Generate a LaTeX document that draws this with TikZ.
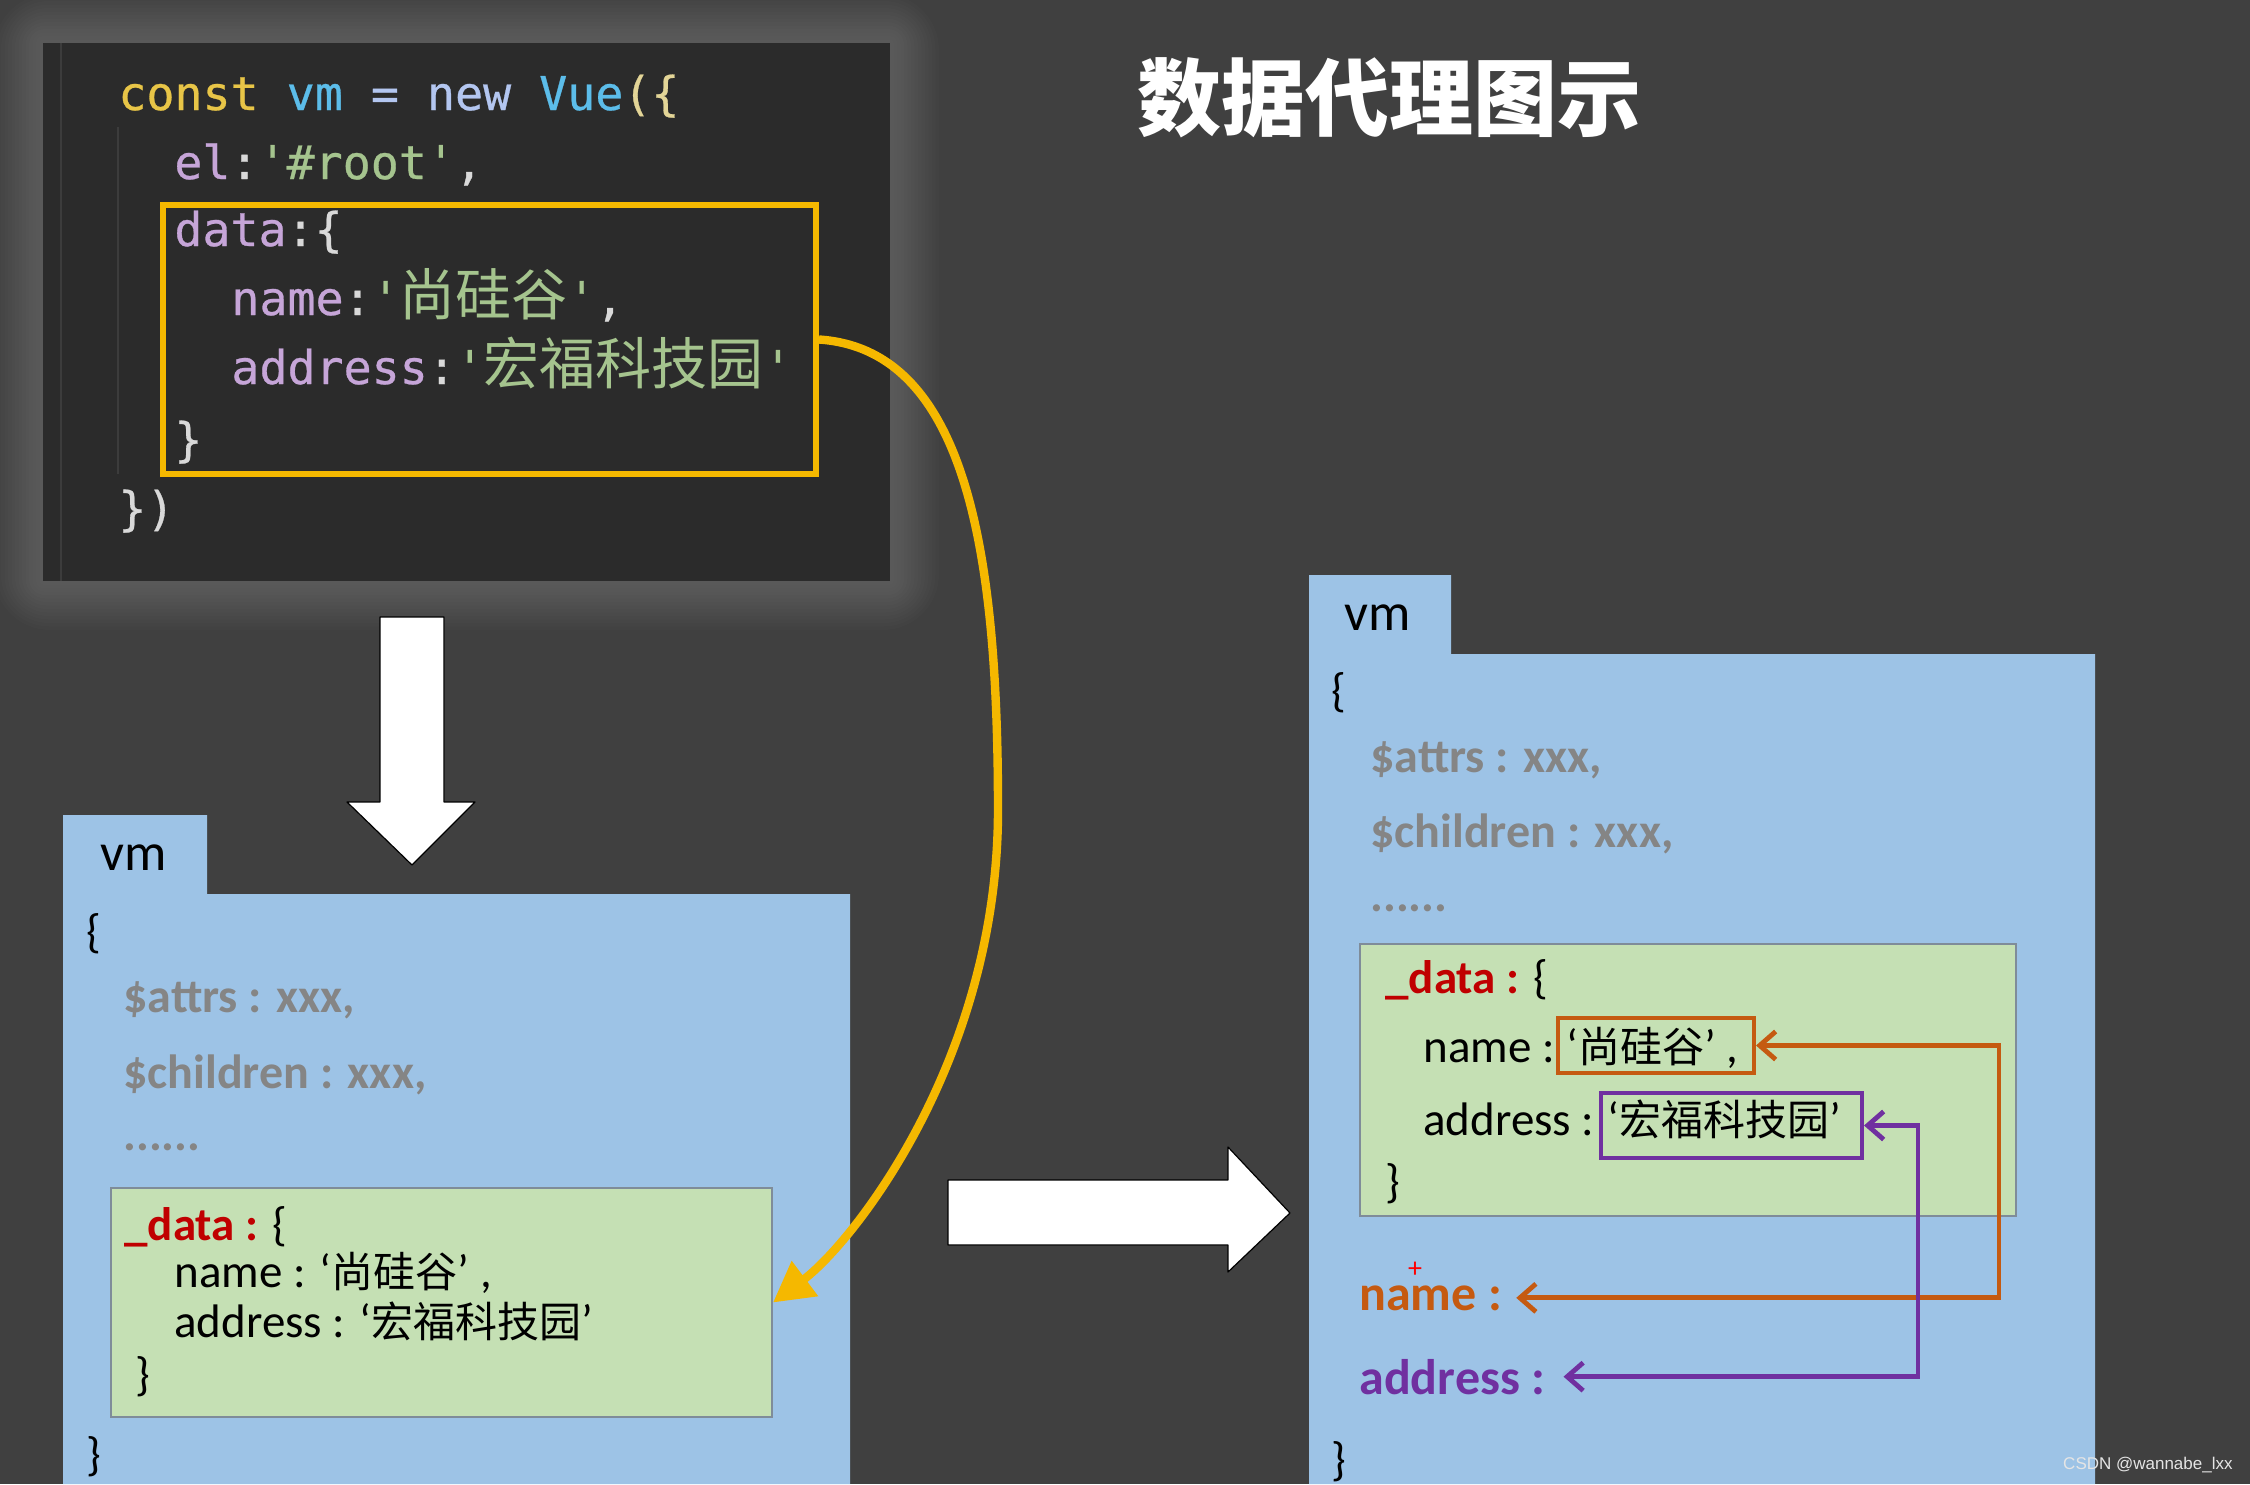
\documentclass[tikz,border=0pt]{standalone}
\usepackage{fontspec}
\setmainfont{Carlito}
\setmonofont{DejaVu Sans Mono}
\newfontfamily\cjk{Noto Sans CJK SC}
\newfontfamily\wmfont{Liberation Sans}
\usetikzlibrary{arrows.meta}

\definecolor{bgGray}{HTML}{404040}
\definecolor{codeBg}{HTML}{2B2B2B}
\definecolor{codeLine}{HTML}{3C3C3C}
\definecolor{kwYellow}{HTML}{E8C547}
\definecolor{varBlue}{HTML}{5CBDEA}
\definecolor{opBlue}{HTML}{B3C6F0}
\definecolor{propLilac}{HTML}{C6A5D8}
\definecolor{strGreen}{HTML}{A5C48E}
\definecolor{punGray}{HTML}{D9D9D9}
\definecolor{parenYel}{HTML}{E3D597}
\definecolor{boxYellow}{HTML}{F5B800}
\definecolor{vmBlue}{HTML}{9DC3E6}
\definecolor{dataGreen}{HTML}{C5E0B4}
\definecolor{dataEdge}{HTML}{7F8C99}
\definecolor{attrGray}{HTML}{858585}
\definecolor{dataRed}{HTML}{C00000}
\definecolor{nameOrange}{HTML}{C55A11}
\definecolor{addrPurple}{HTML}{7030A0}

\newcommand{\sq}{\textquotesingle}
\newcommand{\codezh}[1]{{\cjk\fontsize{28pt}{28pt}\selectfont #1}}
\newcommand{\boxzh}[1]{{\cjk\fontsize{21pt}{21pt}\selectfont #1}}

\begin{document}
\begin{tikzpicture}[x=0.5pt,y=-0.5pt,
  code/.style={anchor=base west,inner sep=0pt,font=\ttfamily\fontsize{23.3pt}{28pt}\selectfont\addfontfeature{FakeBold=0.6}},
  attr/.style={anchor=base west,inner sep=0pt,text=attrGray,font=\bfseries\fontsize{24pt}{28pt}\selectfont},
  txt/.style={anchor=base west,inner sep=0pt,font=\fontsize{23.5pt}{28pt}\selectfont},
  tabtxt/.style={anchor=base west,inner sep=0pt,font=\fontsize{26.5pt}{30pt}\selectfont},
  lbl/.style={anchor=base west,inner sep=0pt,font=\bfseries\fontsize{25pt}{30pt}\selectfont},
  databox/.style={draw=dataEdge,line width=1pt,fill=dataGreen,inner sep=0pt},
  hlbox/.style={line width=2pt,inner sep=0pt},
  blockarr/.style={fill=white,draw=black,line width=0.6pt,line join=round},
  link/.style={line width=2.4pt,arrows={Straight Barb[length=8pt,width=14pt]-Straight Barb[length=8pt,width=14pt]}},
  yarr/.style={draw=boxYellow,line width=4.2pt,-{Triangle[length=20pt,width=21pt]}}]

  \useasboundingbox (0,0) rectangle (2250,1484);
  \fill[bgGray] (0,0) rectangle (2250,1484);

  \foreach \g in {1,...,14}
    \fill[white,opacity=0.011,rounded corners=\g*2pt] (43-\g*3.5,43-\g*3.5) rectangle (890+\g*3.5,581+\g*3.5);
  \node[fill=codeBg,minimum width=423.5pt,minimum height=269pt,inner sep=0pt] (panel) at (466.5,312) {};
  \draw[codeLine,line width=1pt] (61,43) -- (61,581);
  \draw[codeLine,line width=1pt] (118,127) -- (118,474);

  \node[code] (c1) at (118,110) {\textcolor{kwYellow}{const} \textcolor{varBlue}{vm} \textcolor{opBlue}{=} \textcolor{opBlue}{new} \textcolor{varBlue}{Vue}\textcolor{parenYel}{(\{}};
  \node[code] (c2) at (174,179) {\textcolor{propLilac}{el}\textcolor{punGray}{:}\textcolor{strGreen}{\sq\#root\sq}\textcolor{punGray}{,}};
  \node[code] (c3) at (174,246) {\textcolor{propLilac}{data}\textcolor{punGray}{:\{}};
  \node[code] (c4) at (231,315) {\textcolor{propLilac}{name}\textcolor{punGray}{:}\textcolor{strGreen}{\sq\codezh{尚硅谷}\sq}\textcolor{punGray}{,}};
  \node[code] (c5) at (231,384) {\textcolor{propLilac}{address}\textcolor{punGray}{:}\textcolor{strGreen}{\sq\codezh{宏福科技园}\sq}};
  \node[code] (c6) at (174,456) {\textcolor{punGray}{\}}};
  \node[code] (c7) at (118,525) {\textcolor{punGray}{\})}};
  \node[draw=boxYellow,line width=3pt,minimum width=326.5pt,minimum height=134.5pt,inner sep=0pt] (ybox) at (489.5,339.5) {};

  \node[text=white,font=\cjk\bfseries\fontsize{42pt}{42pt}\selectfont] (title) at (1389,98) {数据代理图示};

  \draw[blockarr] (380,617) -- (444,617) -- (444,802) -- (475,802) -- (412,865) -- (347,802) -- (380,802) -- cycle;
  \draw[blockarr] (948,1180) -- (1228,1180) -- (1228,1147) -- (1290,1213) -- (1228,1272) -- (1228,1245) -- (948,1245) -- cycle;

  \fill[vmBlue] (63,815) -- (207,815) -- (207,894) -- (850,894) -- (850,1484) -- (63,1484) -- cycle;
  \node[tabtxt] (lvm) at (100,870) {vm};
  \node[txt] (lopen) at (86,947) {\{};
  \node[attr] (lattrs) at (123,1012) {\$attrs : xxx,};
  \node[attr] (lchild) at (123,1088) {\$children : xxx,};
  \node[attr] (ldots) at (123,1150) {......};
  \node[databox,minimum width=330.5pt,minimum height=114.5pt] (ldata) at (441.5,1302.5) {};
  \node[txt] (ldkey) at (124,1240) {\textcolor{dataRed}{\bfseries\_data :} \{};
  \node[txt] (lname) at (174,1287) {name : ‘\boxzh{尚硅谷}’ ,};
  \node[txt] (laddr) at (174,1337) {address : ‘\boxzh{宏福科技园}’};
  \node[txt] (lclose) at (135,1390) {\}};
  \node[txt] (lend) at (86,1470) {\}};

  \fill[vmBlue] (1309,575) -- (1451,575) -- (1451,654) -- (2095,654) -- (2095,1484) -- (1309,1484) -- cycle;
  \node[tabtxt] (rvm) at (1344,630) {vm};
  \node[txt] (ropen) at (1331,706) {\{};
  \node[attr] (rattrs) at (1370,772) {\$attrs : xxx,};
  \node[attr] (rchild) at (1370,847) {\$children : xxx,};
  \node[attr] (rdots) at (1370,911) {......};
  \node[databox,minimum width=328pt,minimum height=136pt] (rdata) at (1688,1080) {};
  \node[txt] (rdkey) at (1385,993) {\textcolor{dataRed}{\bfseries\_data :} \{};
  \node[txt] (rname) at (1423,1062) {name :};
  \node[txt] (rnameval) at (1566,1062) {‘\boxzh{尚硅谷}’ ,};
  \node[txt] (raddr) at (1423,1135) {address :};
  \node[txt] (raddrval) at (1607,1135) {‘\boxzh{宏福科技园}’};
  \node[txt] (rclose) at (1385,1197) {\}};
  \node[hlbox,draw=nameOrange,minimum width=98pt,minimum height=27.5pt] (nbox) at (1656,1045.5) {};
  \node[hlbox,draw=addrPurple,minimum width=130.5pt,minimum height=32.5pt] (abox) at (1731.5,1125.5) {};
  \node[lbl,text=nameOrange] (pname) at (1359,1310) {name :};
  \node[lbl,text=addrPurple] (paddr) at (1359,1394) {address :};
  \node[text=red,font=\fontsize{14pt}{14pt}\selectfont,inner sep=0pt] (cursor) at (1415,1270) {+};
  \node[txt] (rend) at (1331,1475) {\}};

  \coordinate (ybend) at (998,810);
  \draw[yarr] (ybox.east) .. controls +(150,10) and +(0,-250) .. (ybend) .. controls +(0,250) and +(80,-60) .. (ldata.east);
  \draw[link,nameOrange] (nbox.east) -- ++(243,0) |- ([xshift=7pt]pname.east);
  \draw[link,addrPurple] (abox.east) -- ++(54,0) |- ([xshift=9pt]paddr.east);

  \node[text=white!80!gray,font=\wmfont\fontsize{8.5pt}{9pt}\selectfont,anchor=east,inner sep=0pt] (mark) at (2233,1465) {CSDN @wannabe\_lxx};

\end{tikzpicture}
\end{document}
